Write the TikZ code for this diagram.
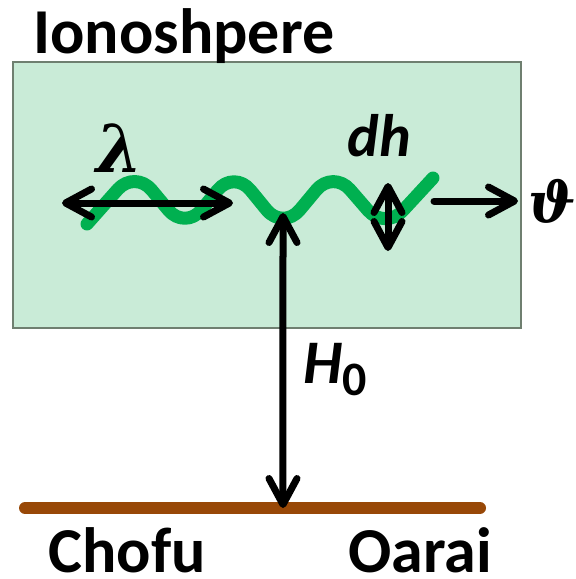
\documentclass[tikz,border=0pt]{standalone}
\usepackage{amsmath, amssymb}
\usepackage{fontspec}
\setmainfont{Carlito}
\newfontfamily\greekfont{DejaVu Serif}
\usetikzlibrary{calc, arrows.meta}
\definecolor{ionofill}{HTML}{C9EBD7}
\definecolor{ionoedge}{HTML}{6F7F70}
\definecolor{wavegreen}{HTML}{00B050}
\definecolor{groundbrown}{HTML}{984807}
\tikzset{
  dimline/.style={line width=3.5pt, line cap=round,
    {Straight Barb[length=13pt, width=14pt, round]}-{Straight Barb[length=13pt, width=14pt, round]}},
  oneway/.style={line width=3.5pt, line cap=round, -{Straight Barb[length=13pt, width=14pt, round]}},
  bigtext/.style={inner sep=0pt, font=\bfseries\fontsize{32}{36}\selectfont},
  greektext/.style={inner sep=0pt, font=\greekfont\bfseries\itshape\fontsize{28}{30}\selectfont}
}

\begin{document}
\begin{tikzpicture}[x=0.5pt, y=-0.5pt]
                \useasboundingbox (0,0) rectangle (576,579);
                \coordinate (R1) at (13,62);
                \coordinate (R2) at (521,328);
                \coordinate (GL) at (25,508);
                \coordinate (GR) at (480,508);
                \coordinate (LamL) at (62,203);
                \coordinate (LamR) at (233,203);
                \coordinate (DhT) at (388,183);
                \coordinate (DhB) at (388,251);
                \coordinate (VS) at (434,201);
                \coordinate (VE) at (518,201);
                \coordinate (HT) at (283,213);
                \coordinate (HB) at ($(GL)!0.567!(GR)$);
                \draw[ionoedge, fill=ionofill, line width=0.8pt] (R1) rectangle (R2);
                \draw[wavegreen, line width=6.5pt, line cap=round, line join=round, rounded corners=13pt]
                  (87,224) -- (135,170) -- (185,230) -- (234,170) -- (283,230)
                  -- (333,170) -- (385,230) -- (433,178);
                \draw[groundbrown, line width=6pt, line cap=round] (GL) -- (GR);
                \draw[dimline] (LamL) -- (LamR);
                \draw[dimline] (DhT) -- (DhB);
                \draw[dimline] (HT) -- (HB);
                \draw[oneway] (VS) -- (VE);
                \node[bigtext, anchor=base west] (title) at (33,53) {Ionoshpere};
                \node[greektext, anchor=base, font=\greekfont\bfseries\itshape\fontsize{33}{36}\selectfont] (lam) at (120,172) {λ};
                \node[bigtext, anchor=base, font=\bfseries\itshape\fontsize{30}{34}\selectfont] (dh) at (379,156) {dh};
                \node[greektext] (theta) at (552,201) {ϑ};
                \node[bigtext, anchor=base west] (hzero) at (303,383)
                  {\fontsize{31}{34}\selectfont\itshape H\raisebox{-6pt}{\upshape\fontsize{24}{28}\selectfont 0}};
                \node[bigtext, anchor=base west] (chofu) at (48,572) {Chofu};
                \node[bigtext, anchor=base west] (oarai) at (348,572) {Oarai};
\end{tikzpicture}
\end{document}
